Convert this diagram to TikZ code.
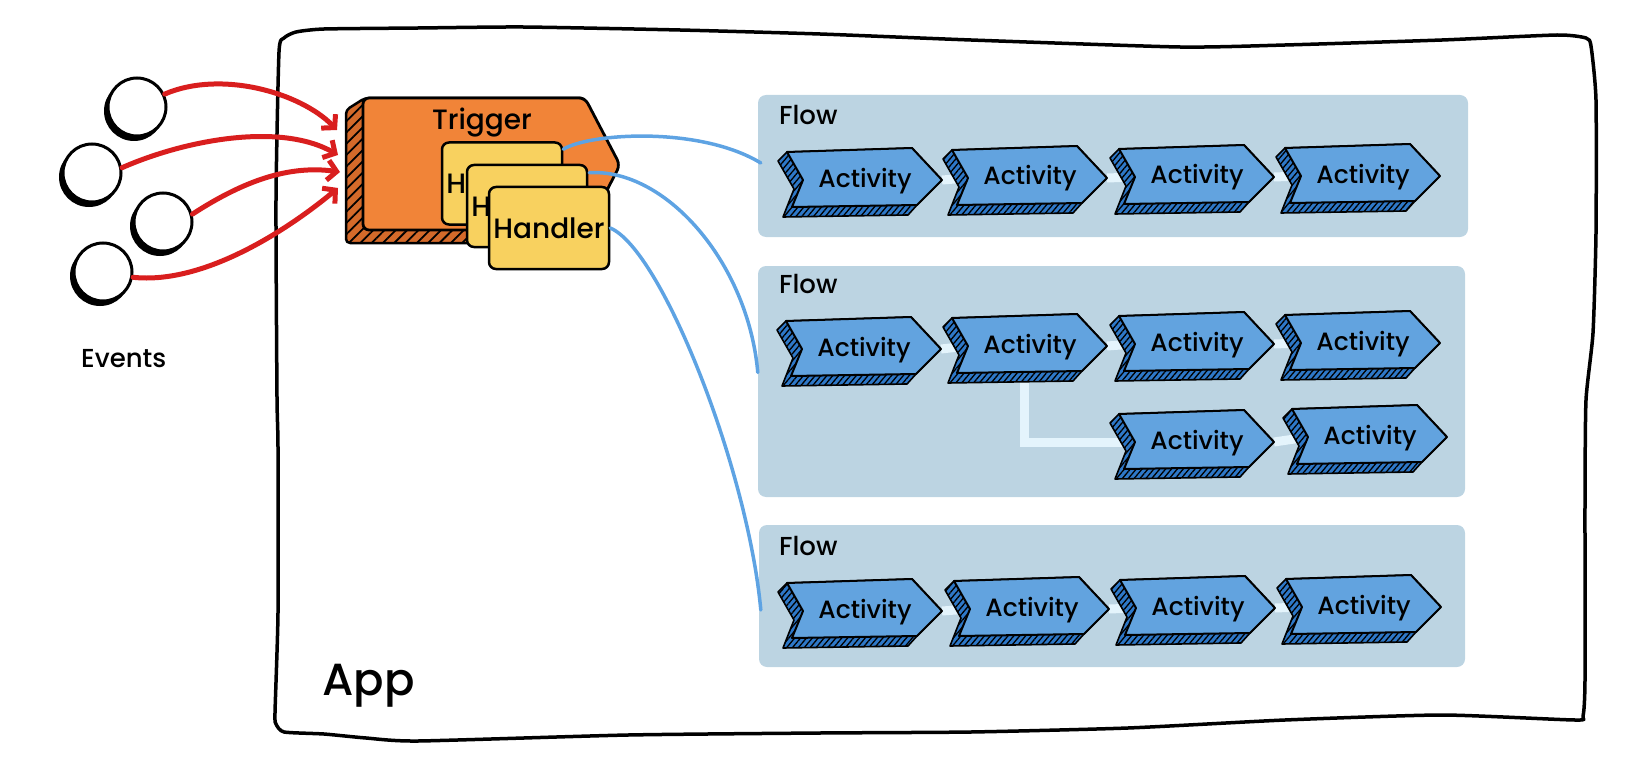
\documentclass[tikz,border=0pt]{standalone}
\usepackage{fontspec}
\setmainfont{Poppins Medium}
\usetikzlibrary{arrows.meta,patterns.meta,calc}
\pgfdeclarelayer{back}
\pgfdeclarelayer{mid}
\pgfsetlayers{back,mid,main}
\definecolor{panelc}{HTML}{BCD4E2}
\definecolor{actc}{HTML}{62A3DF}
\definecolor{actdark}{HTML}{2E78C8}
\definecolor{linkc}{HTML}{E4F4FC}
\definecolor{trigc}{HTML}{F18438}
\definecolor{trigdark}{HTML}{D46A2A}
\definecolor{handc}{HTML}{F8D15F}
\definecolor{evred}{HTML}{D91E1E}
\definecolor{flowblue}{HTML}{5EA3E3}
\newcommand\actv[3]{%
  \begin{scope}[shift={(#2,#3)}]
    \path[preaction={fill=actdark}, pattern={Lines[angle=50,distance=4.5pt,line width=1.3pt]}, pattern color=black, draw=black, line width=1.6pt, line join=round]
      (-155,-28) -- (-164,-19) -- (-148,9) -- (-159,37) -- (-34,35) -- (-25,25) -- (0,0) -- (-30,-32) -- cycle;
    \draw[actface] (-155,-28) -- (-30,-32) -- (0,0) -- (-25,25) -- (-150,27) -- (-139,0) -- cycle;
    \node[acttext] (#1) at (-77,7) {Activity};
    \coordinate (#1-tip) at (0,0);
    \coordinate (#1-in) at (-139,0);
  \end{scope}}
\begin{document}
\begin{tikzpicture}[x=1pt,y=-1pt,
  actface/.style={fill=actc, draw=black, line width=2pt, line join=round},
  acttext/.style={anchor=base, inner sep=0pt, font=\fontsize{25}{29}\selectfont},
  panel/.style={fill=panelc, rounded corners=8pt, inner sep=0pt},
  flowlbl/.style={anchor=base west, inner sep=0pt, font=\fontsize{26}{30}\selectfont},
  link/.style={draw=linkc, line width=9pt},
  handler/.style={rectangle, rounded corners=7pt, fill=handc, draw=black, line width=2.5pt, minimum width=120pt, minimum height=82pt, inner sep=0pt, font=\fontsize{28}{32}\selectfont},
  evc/.style={circle, draw=black, line width=3pt, fill=white, minimum size=58pt, inner sep=0pt},
  evarrow/.style={draw=evred, line width=5pt, line cap=round, -{Straight Barb[length=9pt,width=20pt]}},
  flowline/.style={draw=flowblue, line width=3.5pt, line cap=round}]
\useasboundingbox (0,0) rectangle (1634,773);

% App box
\draw[line width=3.5pt, line join=round] plot[smooth cycle, tension=0.35] coordinates {
 (284,38) (296,32) (324,29) (418,28) (523,27) (680,30) (820,34) (971,40) (1180,47) (1285,45) (1442,40) (1557,35) (1586,38)
 (1591,46) (1596,100) (1596,233) (1593,333) (1586,400) (1585,500) (1585,680) (1583,716)
 (1575,720) (1442,715) (1285,720) (1128,728) (971,732) (820,733) (628,735) (418,741) (366,738) (324,734) (284,732)
 (276,724) (275,713) (278,613) (278,447) (277,397) (276,200) (279,52)};
\node[anchor=base west, inner sep=0pt, font=\fontsize{45}{50}\selectfont] (applbl) at (322,695) {App};

% Flow panels
\begin{pgfonlayer}{back}
\node[panel, minimum width=710pt, minimum height=142pt] (flow1) at (1113,166) {};
\node[panel, minimum width=707pt, minimum height=231pt] (flow2) at (1111.5,381.5) {};
\node[panel, minimum width=706pt, minimum height=142pt] (flow3) at (1112,596) {};
\end{pgfonlayer}
\node[flowlbl] (fl1) at (779,125) {Flow};
\node[flowlbl] (fl2) at (779,293) {Flow};
\node[flowlbl] (fl3) at (779,555) {Flow};

% Activities
\actv{r1a1}{942}{180}
\actv{r1a2}{1107}{178}
\actv{r1a3}{1274}{177}
\actv{r1a4}{1440}{176}
\actv{r2a1}{941}{349}
\actv{r2a2}{1107}{346}
\actv{r2a3}{1274}{344}
\actv{r2a4}{1440}{343}
\actv{r2b3}{1274}{442}
\actv{r2b4}{1447}{437}
\actv{r3a1}{942}{611}
\actv{r3a2}{1109}{609}
\actv{r3a3}{1275}{608}
\actv{r3a4}{1441}{607}

\begin{pgfonlayer}{mid}
\draw[link] (r1a1-tip) -- (r1a2-in);
\draw[link] (r1a2-tip) -- (r1a3-in);
\draw[link] (r1a3-tip) -- (r1a4-in);
\draw[link] (r2a1-tip) -- (r2a2-in);
\draw[link] (r2a2-tip) -- (r2a3-in);
\draw[link] (r2a3-tip) -- (r2a4-in);
\draw[link] ([xshift=-6pt]r2a2.south) |- (r2b3-in);
\draw[link] (r2b3-tip) -- (r2b4-in);
\draw[link] (r3a1-tip) -- (r3a2-in);
\draw[link] (r3a2-tip) -- (r3a3-in);
\draw[link] (r3a3-tip) -- (r3a4-in);
\end{pgfonlayer}

% Trigger
\path[preaction={fill=trigdark}, pattern={Lines[angle=45,distance=8pt,line width=1.8pt]}, pattern color=black, draw=black, line width=2.5pt, line join=round, rounded corners=4pt]
  (365,98) -- (346,110) -- (346,243) -- (600,243) -- (606,230) -- (606,192) -- (585,98) -- cycle;
\draw[fill=trigc, line width=2.8pt, line join=round, rounded corners=6pt]
  (363,98) -- (585,98) -- (620,165) -- (606,192) -- (606,230) -- (363,230) -- cycle;
\node[anchor=base, inner sep=0pt, font=\fontsize{28}{32}\selectfont] (trig) at (482,130) {Trigger};
\coordinate (t1) at (337,130);
\coordinate (t2) at (338,155);
\coordinate (t3) at (340,172);
\coordinate (t4) at (338,188);

% Handlers
\node[handler] (h1) at (502,183.5) {Handler};
\node[handler] (h2) at (527,206) {Handler};
\node[handler] (h3) at (549,228) {Handler};

% Flow connectors
\coordinate (f1in) at ($(flow1.west)+(3,-3)$);
\coordinate (f2in) at ($(flow2.west)+(0,-9)$);
\coordinate (f3in) at ($(flow3.west)+(2,14)$);
\draw[flowline] ($(h1.north east)+(0,8)$) .. controls (590,133) and (700,126) .. (f1in);
\draw[flowline] ($(h2.north east)+(1,9)$) .. controls (665,168) and (748,262) .. (f2in);
\draw[flowline] (h3.east) .. controls (662,250) and (748,470) .. (f3in);

% Events
\fill (134,111) circle[radius=30];
\node[evc] (e1) at (137,107) {};
\fill (89,177) circle[radius=30];
\node[evc] (e2) at (92,173) {};
\fill (160,226) circle[radius=30];
\node[evc] (e3) at (163,222) {};
\fill (100,276) circle[radius=30];
\node[evc] (e4) at (103,272) {};
\node[anchor=base west, inner sep=0pt, font=\fontsize{26}{30}\selectfont] (evlbl) at (81,367) {Events};

\draw[evarrow] (e1.25) .. controls (220,70) and (300,92) .. (t1);
\draw[evarrow] (e2.10) .. controls (185,140) and (280,122) .. (t2);
\draw[evarrow] (e3.15) .. controls (245,180) and (290,165) .. (t3);
\draw[evarrow] (e4.-10) .. controls (205,285) and (290,228) .. (t4);
\end{tikzpicture}
\end{document}
